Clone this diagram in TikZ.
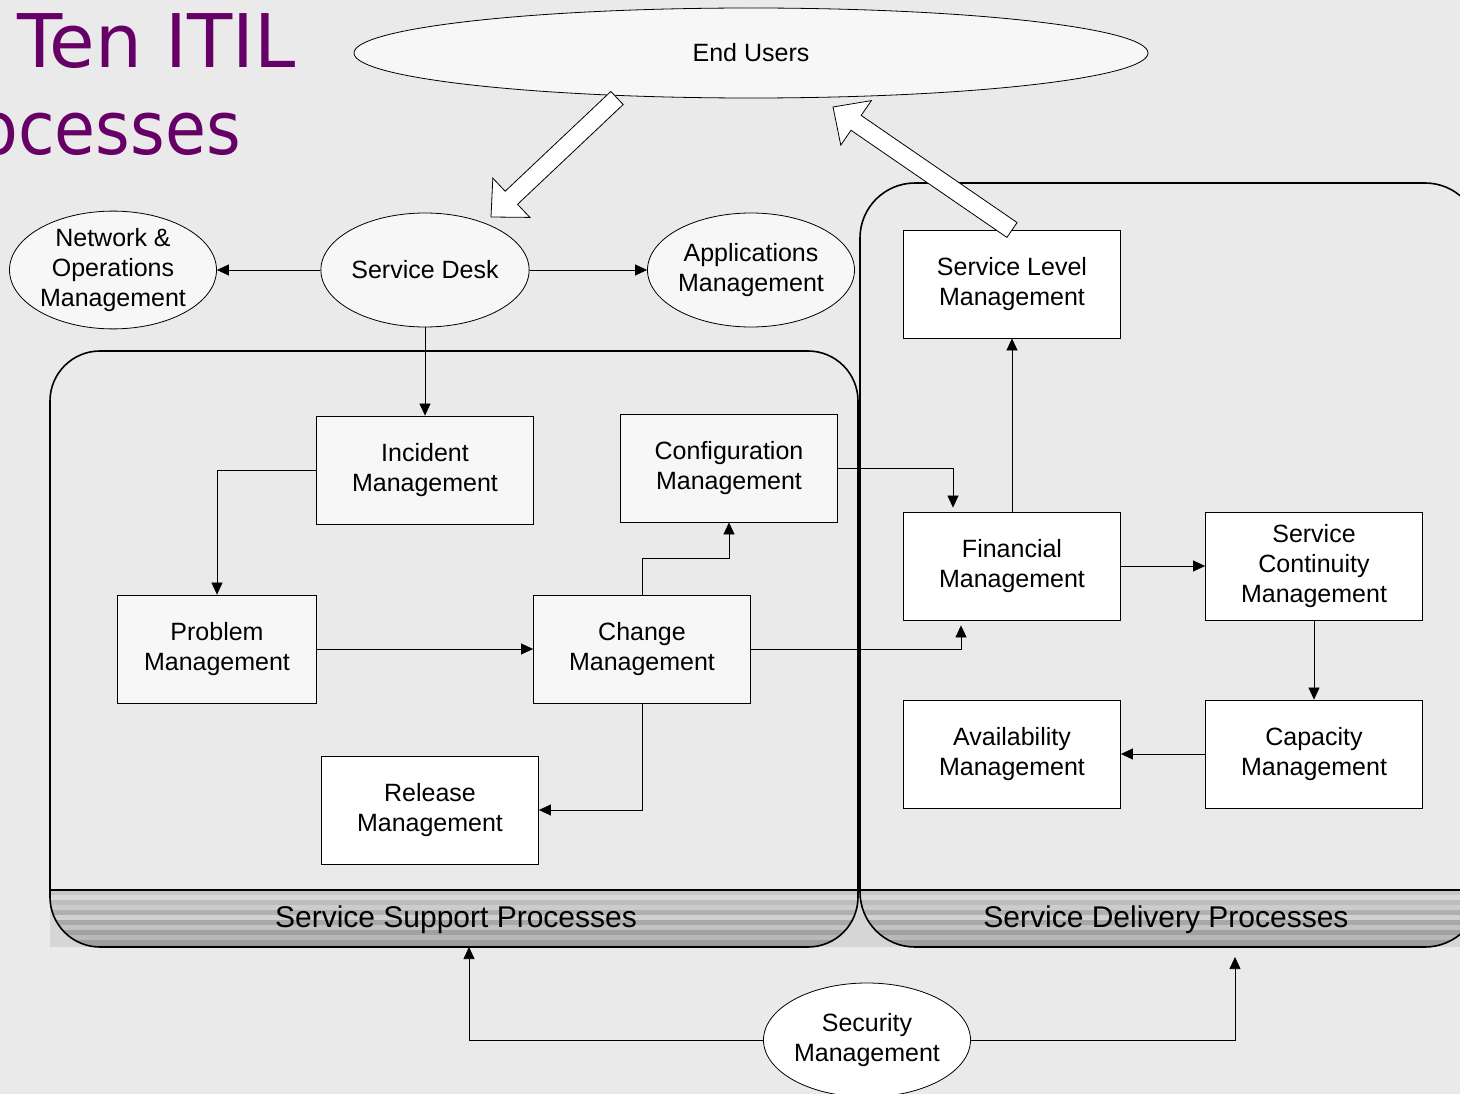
\documentclass[tikz,border=0pt]{standalone}
\usepackage{fontspec}
\setmainfont{Liberation Sans}
\newfontfamily\titlefont{DejaVu Sans}
\usetikzlibrary{shapes.geometric,arrows.meta,calc}

\definecolor{paper}{HTML}{EAEAEA}
\definecolor{boxfill}{HTML}{F7F7F7}
\definecolor{bandplain}{HTML}{D6D6D6}
\definecolor{titlepurple}{HTML}{660066}

% hollow block arrow from tail (#1) to tip (#2)
\newcommand\hollowarrow[2]{%
  \coordinate (ha-n) at ($(#2)!28pt!(#1)$);
  \filldraw[fill=white,draw=black,line width=0.8pt,line join=miter]
    ($(#1)!9pt!90:(#2)$) -- ($(ha-n)!9pt!-90:(#1)$) -- ($(ha-n)!27pt!-90:(#1)$)
    -- (#2) -- ($(ha-n)!27pt!90:(#1)$) -- ($(ha-n)!9pt!90:(#1)$)
    -- ($(#1)!9pt!-90:(#2)$) -- cycle;}

\tikzset{
  txt/.style={font=\fontsize{25}{30}\selectfont, align=center},
  procbox/.style={txt, draw, line width=0.8pt, fill=boxfill, minimum width=217pt,
    minimum height=108pt, inner sep=0pt},
  procoval/.style={txt, ellipse, draw, line width=0.8pt, fill=boxfill,
    minimum width=207pt, minimum height=114pt, inner sep=0pt},
  conn/.style={line width=0.7pt, -{Triangle[length=12pt,width=11pt]}},
  container/.style={line width=1.6pt},
  bandlabel/.style={font=\fontsize{30}{36}\selectfont, inner sep=0pt},
  heading/.style={font=\titlefont\fontsize{74}{80}\selectfont, text=titlepurple, inner sep=0pt},
}

\begin{document}
\begin{tikzpicture}[x=1pt,y=-1pt]
  \useasboundingbox (0,0) rectangle (1460,1094);
  \clip (0,0) rectangle (1460,1094);
  \fill[paper] (0,0) rectangle (1460,1094);

  % label band under both process groups: plain outside, striped inside
  \fill[bandplain] (50,890) rectangle (1460,947);
  \begin{scope}
    \clip[rounded corners=50] (50,351) rectangle (858,947)
          [rounded corners=55] (860,183) rectangle (1480,947);
    \foreach \g [count=\i from 0] in {78,85,74,80,69,82,66,76,63,72,62,60}
      \fill[white!\g!black] (50,{890+5*\i}) rectangle (1460,{895+5*\i});
  \end{scope}

  % process group outlines
  \draw[container, rounded corners=50] (50,351) rectangle (858,947);
  \draw[container, rounded corners=55] (860,183) rectangle (1480,947);
  \draw[line width=1.2pt] (50,890) -- (1460,890);
  \node[bandlabel] (sslabel) at (456,920) {Service Support Processes};
  \node[bandlabel] (sdlabel) at (1166,920) {Service Delivery Processes};

  % nodes
  \node[txt, ellipse, draw, line width=0.8pt, fill=boxfill, minimum width=794pt,
        minimum height=90pt, inner sep=0pt] (users) at (751,53) {End Users};
  \node[procoval] (sd) at (425,270) {Service Desk};
  \node[procoval] (net) at (113,270) {Network \&\\Operations\\Management};
  \node[procoval] (apps) at (751,270) {Applications\\Management};

  \node[procbox] (inc) at (425,470) {Incident\\Management};
  \node[procbox] (cfg) at (729,468) {Configuration\\Management};
  \node[procbox, minimum width=199pt] (prob) at (217,649) {Problem\\Management};
  \node[procbox] (chg) at (642,649) {Change\\Management};
  \node[procbox, fill=white] (rel) at (430,810) {Release\\Management};

  \node[procbox, fill=white] (slm) at (1012,284) {Service Level\\Management};
  \node[procbox, fill=white] (fin) at (1012,566) {Financial\\Management};
  \node[procbox, fill=white] (scm) at (1314,566) {Service\\Continuity\\Management};
  \node[procbox, fill=white] (avail) at (1012,754) {Availability\\Management};
  \node[procbox, fill=white] (cap) at (1314,754) {Capacity\\Management};

  \node[procoval, fill=white] (sec) at (867,1040) {Security\\Management};

  \coordinate (ssbottom) at (469,947);
  \coordinate (sdbottom) at (1235,957);

  % connectors
  \draw[conn] (sd.west) -- (net.east);
  \draw[conn] (sd.east) -- (apps.west);
  \draw[conn] (sd.south) -- (inc.north);
  \draw[conn] (inc.west) -| (prob.north);
  \draw[conn] (prob.east) -- (chg.west);
  \draw[conn] (chg.north) -- ++(0,-36) -| (cfg.south);
  \draw[conn] (chg.south) |- (rel.east);
  \draw[conn, shorten >=4pt] (cfg.east) -| ([xshift=-59pt]fin.north);
  \draw[conn, shorten >=5pt] (chg.east) -| ([xshift=-51pt]fin.south);
  \draw[conn] (fin.north) -- (slm.south);
  \draw[conn] (fin.east) -- (scm.west);
  \draw[conn] (scm.south) -- (cap.north);
  \draw[conn] (cap.west) -- (avail.east);
  \draw[conn] (sec.west) -| (ssbottom);
  \draw[conn] (sec.east) -| (sdbottom);

  % hollow arrows to and from the end users
  \coordinate (downtail) at (617,98);
  \coordinate (downtip) at (491,217);
  \hollowarrow{downtail}{downtip}
  \coordinate (uptail) at (1012,230);
  \coordinate (uptip) at (833,107);
  \hollowarrow{uptail}{uptip}

  % heading (second line runs past the left edge)
  \node[heading, anchor=base west] (title1) at (17,68) {Ten ITIL};
  \node[heading, anchor=base east, xscale=0.9] (title2) at (241,155) {Processes};
\end{tikzpicture}
\end{document}
